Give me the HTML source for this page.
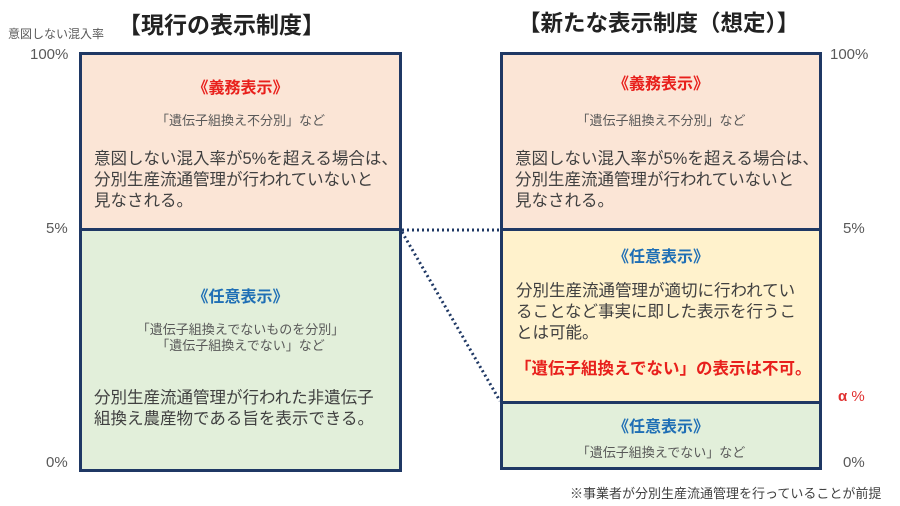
<!DOCTYPE html>
<html><head><meta charset="utf-8"><style>
body{margin:0;width:900px;height:506px;background:#fff;position:relative;overflow:hidden;font-family:"Liberation Sans","Noto Sans CJK JP",sans-serif;color:#404040}
.a{position:absolute;white-space:nowrap}
.box{position:absolute;box-sizing:border-box;border:3px solid #1f3864}
.h{font-weight:bold;font-size:16px;text-align:center;width:100%}
.s{font-size:13px;color:#595959;text-align:center;width:100%}
.t{font-size:16.5px;line-height:21px;color:#404040}
.ax{font-size:15px;color:#595959}
</style></head><body>
<div class="a" style="left:118px;top:6px;font-size:23px;font-weight:bold;color:#222">【現行の表示制度】</div>
<div class="a" style="left:518px;top:6px;font-size:22.5px;font-weight:bold;color:#222">【新たな表示制度（想定）】</div>
<div class="a" style="left:8px;top:25px;font-size:12px;color:#595959">意図しない混入率</div>
<div class="a ax" style="left:30px;top:46px">100%</div>
<div class="a ax" style="left:46px;top:220px">5%</div>
<div class="a ax" style="left:46px;top:454px">0%</div>
<div class="a ax" style="left:830px;top:46px">100%</div>
<div class="a ax" style="left:843px;top:220px">5%</div>
<div class="a ax" style="left:838px;top:388px;color:#e03030"><b>α</b> %</div>
<div class="a ax" style="left:843px;top:454px">0%</div>

<div class="box" style="left:79px;top:52px;width:323px;height:180px;background:#fbe5d6">
 <div class="a h" style="top:19px;color:#e8201c">《義務表示》</div>
 <div class="a s" style="top:55px">「遺伝子組換え不分別」など</div>
 <div class="a t" style="left:12px;top:94px">意図しない混入率が5%を超える場合は、<br>分別生産流通管理が行われていないと<br>見なされる。</div>
</div>
<div class="box" style="left:79px;top:228px;width:323px;height:244px;background:#e2efda">
 <div class="a h" style="top:52px;color:#1f6fb5">《任意表示》</div>
 <div class="a s" style="top:91px;line-height:16px">「遺伝子組換えでないものを分別」<br>「遺伝子組換えでない」など</div>
 <div class="a t" style="left:12px;top:157px">分別生産流通管理が行われた非遺伝子<br>組換え農産物である旨を表示できる。</div>
</div>

<div class="box" style="left:500px;top:52px;width:322px;height:180px;background:#fbe5d6">
 <div class="a h" style="top:15px;color:#e8201c">《義務表示》</div>
 <div class="a s" style="top:55px">「遺伝子組換え不分別」など</div>
 <div class="a t" style="left:12px;top:94px">意図しない混入率が5%を超える場合は、<br>分別生産流通管理が行われていないと<br>見なされる。</div>
</div>
<div class="box" style="left:500px;top:228px;width:322px;height:176px;background:#fff2cc">
 <div class="a h" style="top:12px;color:#1f6fb5">《任意表示》</div>
 <div class="a t" style="left:13px;top:50px">分別生産流通管理が適切に行われてい<br>ることなど事実に即した表示を行うこ<br>とは可能。</div>
 <div class="a" style="left:12px;top:124px;font-size:16.5px;font-weight:bold;color:#e8201c">「遺伝子組換えでない」の表示は不可。</div>
</div>
<div class="box" style="left:500px;top:401px;width:322px;height:69px;background:#e2efda">
 <div class="a h" style="top:9px;color:#1f6fb5">《任意表示》</div>
 <div class="a s" style="top:38px">「遺伝子組換えでない」など</div>
</div>
<svg class="a" style="left:0;top:0" width="900" height="506">
<line x1="402" y1="230" x2="500" y2="230" stroke="#1f3864" stroke-width="3" stroke-dasharray="2 3"/>
<line x1="402" y1="232" x2="500" y2="401" stroke="#1f3864" stroke-width="3" stroke-dasharray="2 3"/>
</svg>
<div class="a" style="left:570px;top:483px;font-size:13px;color:#404040">※事業者が分別生産流通管理を行っていることが前提</div>
</body></html>
